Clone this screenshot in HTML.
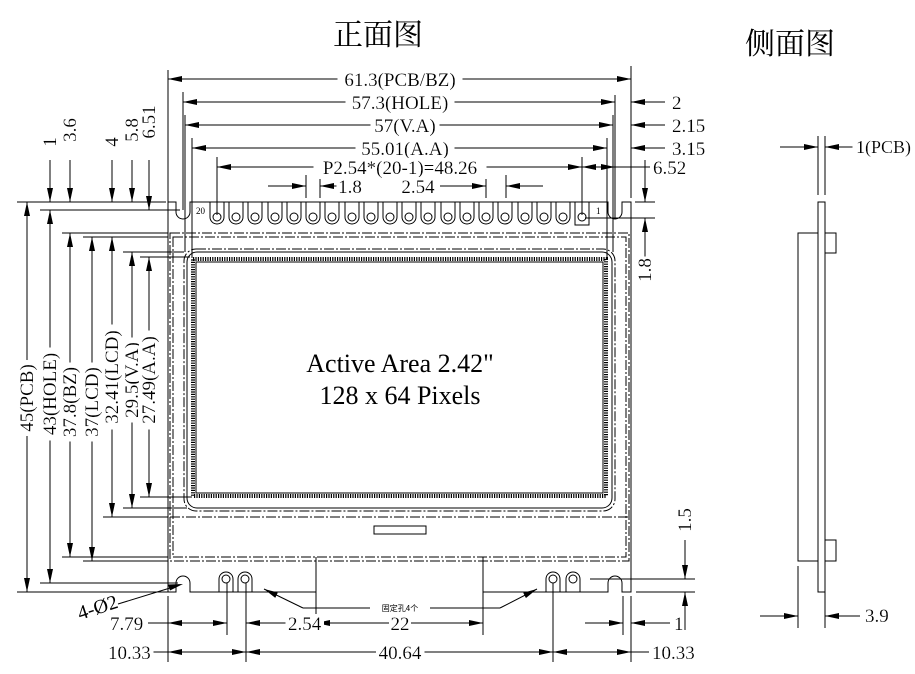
<!DOCTYPE html>
<html><head><meta charset="utf-8"><style>
html,body{margin:0;padding:0;background:#fff;}
svg{display:block;}
text{font-family:"Liberation Serif","Noto Serif CJK SC",serif;fill:#000;}
.t{font-size:19px;filter:url(#bg);}
.l{stroke:#000;stroke-width:1;fill:none;}
.dd{stroke:#000;stroke-width:1;fill:none;stroke-dasharray:10,2,2,2;}
</style></head><body>
<svg width="915" height="674" viewBox="0 0 915 674" xmlns="http://www.w3.org/2000/svg">
<defs>
<marker id="a" markerWidth="14" markerHeight="6" refX="14" refY="3" orient="auto-start-reverse" markerUnits="userSpaceOnUse"><path d="M0,0L14,3L0,6z" fill="#000"/></marker>
<filter id="bg" x="-0.06" y="0" width="1.12" height="1"><feFlood flood-color="#fff"/><feMerge><feMergeNode/><feMergeNode in="SourceGraphic"/></feMerge></filter>
</defs>
<text x="378" y="45" font-size="30" text-anchor="middle" style="font-family:'Noto Serif CJK SC','Noto Sans CJK SC',serif">正面图</text>
<text x="790" y="54" font-size="30" text-anchor="middle" style="font-family:'Noto Serif CJK SC','Noto Sans CJK SC',serif">侧面图</text>

<g class="l">
<path d="M168,70V202 M183,92V210 M185,115V252 M192,138V258 M217,157V215 M631,66V198 M615,95V218 M613,115V252 M607,138V258 M582,157V215 M306,175V198 M320,175V198 M486,175V198 M506,175V198"/>
</g>
<g class="l">
<line x1="168" y1="79" x2="631" y2="79" marker-start="url(#a)" marker-end="url(#a)"/>
<line x1="183" y1="102" x2="615" y2="102" marker-start="url(#a)" marker-end="url(#a)"/>
<line x1="665" y1="102" x2="631" y2="102" marker-end="url(#a)"/>
<line x1="185" y1="125" x2="613" y2="125" marker-start="url(#a)" marker-end="url(#a)"/>
<line x1="665" y1="125" x2="631" y2="125" marker-end="url(#a)"/>
<line x1="192" y1="148" x2="607" y2="148" marker-start="url(#a)" marker-end="url(#a)"/>
<line x1="665" y1="148" x2="631" y2="148" marker-end="url(#a)"/>
<line x1="217" y1="167" x2="582" y2="167" marker-start="url(#a)" marker-end="url(#a)"/>
<line x1="615" y1="167" x2="582" y2="167" marker-end="url(#a)"/>
<line x1="582" y1="167" x2="615" y2="167" marker-end="url(#a)"/>
<line x1="615" y1="167" x2="650" y2="167"/>
<line x1="268" y1="186" x2="306" y2="186" marker-end="url(#a)"/>
<line x1="350" y1="186" x2="320" y2="186" marker-end="url(#a)"/>
<line x1="440" y1="186" x2="486" y2="186" marker-end="url(#a)"/>
<line x1="543" y1="186" x2="506" y2="186" marker-end="url(#a)"/>
</g>
<text class="t" x="400" y="86" text-anchor="middle">61.3(PCB/BZ)</text>
<text class="t" x="400" y="109" text-anchor="middle">57.3(HOLE)</text>
<text class="t" x="405" y="132" text-anchor="middle">57(V.A)</text>
<text class="t" x="405" y="155" text-anchor="middle">55.01(A.A)</text>
<text class="t" x="400" y="174" text-anchor="middle">P2.54*(20-1)=48.26</text>
<text class="t" x="350" y="193" text-anchor="middle">1.8</text>
<text class="t" x="418" y="193" text-anchor="middle">2.54</text>
<text class="t" x="672" y="109">2</text>
<text class="t" x="672" y="132">2.15</text>
<text class="t" x="672" y="155">3.15</text>
<text class="t" x="653" y="174">6.52</text>

<path class="l" d="M168,202H176V212A7,7 0 0 0 190,212V202H608V212A7,7 0 0 0 622,212V202H631V592H622V583A7,7 0 0 0 608,583V592H483V557 M316,557V592H190V583A7,7 0 0 0 176,583V592H168V202"/>
<g class="l">
<path d="M210,202V217A7,7 0 0 0 224,217V202"/><circle cx="217" cy="217" r="4"/>
<path d="M229,202V217A7,7 0 0 0 243,217V202"/><circle cx="236" cy="217" r="4"/>
<path d="M248,202V217A7,7 0 0 0 262,217V202"/><circle cx="255" cy="217" r="4"/>
<path d="M268,202V217A7,7 0 0 0 282,217V202"/><circle cx="275" cy="217" r="4"/>
<path d="M287,202V217A7,7 0 0 0 301,217V202"/><circle cx="294" cy="217" r="4"/>
<path d="M306,202V217A7,7 0 0 0 320,217V202"/><circle cx="313" cy="217" r="4"/>
<path d="M325,202V217A7,7 0 0 0 339,217V202"/><circle cx="332" cy="217" r="4"/>
<path d="M345,202V217A7,7 0 0 0 359,217V202"/><circle cx="352" cy="217" r="4"/>
<path d="M364,202V217A7,7 0 0 0 378,217V202"/><circle cx="371" cy="217" r="4"/>
<path d="M383,202V217A7,7 0 0 0 397,217V202"/><circle cx="390" cy="217" r="4"/>
<path d="M402,202V217A7,7 0 0 0 416,217V202"/><circle cx="409" cy="217" r="4"/>
<path d="M421,202V217A7,7 0 0 0 435,217V202"/><circle cx="428" cy="217" r="4"/>
<path d="M441,202V217A7,7 0 0 0 455,217V202"/><circle cx="448" cy="217" r="4"/>
<path d="M460,202V217A7,7 0 0 0 474,217V202"/><circle cx="467" cy="217" r="4"/>
<path d="M479,202V217A7,7 0 0 0 493,217V202"/><circle cx="486" cy="217" r="4"/>
<path d="M498,202V217A7,7 0 0 0 512,217V202"/><circle cx="505" cy="217" r="4"/>
<path d="M518,202V217A7,7 0 0 0 532,217V202"/><circle cx="525" cy="217" r="4"/>
<path d="M537,202V217A7,7 0 0 0 551,217V202"/><circle cx="544" cy="217" r="4"/>
<path d="M556,202V217A7,7 0 0 0 570,217V202"/><circle cx="563" cy="217" r="4"/>
<rect x="575" y="202" width="14" height="23"/><circle cx="582" cy="217" r="4"/>
</g>
<text x="196" y="214" font-size="9">20</text>
<text x="596" y="214" font-size="9">1</text>

<rect class="dd" x="170" y="233" width="459" height="328"/>
<rect class="dd" x="173" y="237" width="453" height="320"/>
<line class="dd" x1="170" y1="517" x2="629" y2="517"/>
<rect class="l" x="187" y="252" width="425" height="256" rx="10"/>
<rect class="dd" x="184" y="249" width="431" height="262" rx="12"/>
<rect x="193" y="259" width="413" height="237" fill="none" stroke="#000" stroke-width="4" stroke-dasharray="1.2,1.2"/>
<rect class="l" x="196" y="262" width="407" height="231"/>
<rect class="l" x="374" y="526" width="52" height="8"/>
<text x="400" y="372" font-size="26" text-anchor="middle">Active Area 2.42"</text>
<text x="400" y="404" font-size="26" text-anchor="middle">128 x 64 Pixels</text>

<g class="l">
<path d="M219,592V579A7,7 0 0 1 233,579V592"/><circle cx="226" cy="579" r="4"/>
<path d="M238,592V579A7,7 0 0 1 252,579V592"/><circle cx="245" cy="579" r="4"/>
<path d="M546,592V579A7,7 0 0 1 560,579V592"/><circle cx="553" cy="579" r="4"/>
<path d="M566,592V579A7,7 0 0 1 580,579V592"/><circle cx="573" cy="579" r="4"/>
</g>

<g class="l">
<path d="M17,202H166 M40,210H180 M62,233H168 M83,237H168 M123,252H184 M140,257H190 M140,497H192 M123,508H187 M103,517H168 M62,557H168 M83,561H168 M40,583H178 M17,592H168"/>
</g>
<g class="l">
<line x1="27" y1="592" x2="27" y2="202" marker-start="url(#a)" marker-end="url(#a)"/>
<line x1="50" y1="160" x2="50" y2="202" marker-end="url(#a)"/>
<line x1="50" y1="583" x2="50" y2="210" marker-start="url(#a)" marker-end="url(#a)"/>
<line x1="70" y1="160" x2="70" y2="202" marker-end="url(#a)"/>
<line x1="70" y1="557" x2="70" y2="233" marker-start="url(#a)" marker-end="url(#a)"/>
<line x1="92" y1="561" x2="92" y2="237" marker-start="url(#a)" marker-end="url(#a)"/>
<line x1="112" y1="160" x2="112" y2="202" marker-end="url(#a)"/>
<line x1="112" y1="517" x2="112" y2="237" marker-start="url(#a)" marker-end="url(#a)"/>
<line x1="132" y1="160" x2="132" y2="202" marker-end="url(#a)"/>
<line x1="132" y1="508" x2="132" y2="252" marker-start="url(#a)" marker-end="url(#a)"/>
<line x1="149" y1="160" x2="149" y2="210" marker-end="url(#a)"/>
<line x1="149" y1="497" x2="149" y2="257" marker-start="url(#a)" marker-end="url(#a)"/>
</g>
<text class="t" text-anchor="middle" transform="translate(56,142) rotate(-90)">1</text>
<text class="t" text-anchor="middle" transform="translate(76,130) rotate(-90)">3.6</text>
<text class="t" text-anchor="middle" transform="translate(118,142) rotate(-90)">4</text>
<text class="t" text-anchor="middle" transform="translate(138,130) rotate(-90)">5.8</text>
<text class="t" text-anchor="middle" transform="translate(155,122) rotate(-90)">6.51</text>
<text class="t" text-anchor="middle" transform="translate(33,398) rotate(-90)">45(PCB)</text>
<text class="t" text-anchor="middle" transform="translate(56,394) rotate(-90)">43(HOLE)</text>
<text class="t" text-anchor="middle" transform="translate(76,402) rotate(-90)">37.8(BZ)</text>
<text class="t" text-anchor="middle" transform="translate(98,402) rotate(-90)">37(LCD)</text>
<text class="t" text-anchor="middle" transform="translate(118,377) rotate(-90)">32.41(LCD)</text>
<text class="t" text-anchor="middle" transform="translate(138,380) rotate(-90)">29.5(V.A)</text>
<text class="t" text-anchor="middle" transform="translate(155,380) rotate(-90)">27.49(A.A)</text>

<g class="l">
<path d="M635,202H655 M585,218H655 M590,579H695 M636,592H695"/>
<line x1="645" y1="160" x2="645" y2="202" marker-end="url(#a)"/>
<line x1="645" y1="262" x2="645" y2="218" marker-end="url(#a)"/>
<line x1="685" y1="540" x2="685" y2="579" marker-end="url(#a)"/>
<line x1="685" y1="630" x2="685" y2="592" marker-end="url(#a)"/>
</g>
<text class="t" transform="translate(651,270) rotate(-90)" text-anchor="middle">1.8</text>
<text class="t" transform="translate(691,520) rotate(-90)" text-anchor="middle">1.5</text>

<g class="l">
<path d="M168,596V662 M227,583V635 M246,583V662 M316,592V635 M483,592V635 M553,583V662 M623,596V635 M631,596V662"/>
<line x1="227" y1="623" x2="168" y2="623" marker-end="url(#a)"/>
<line x1="168" y1="623" x2="227" y2="623" marker-end="url(#a)"/>
<line x1="290" y1="623" x2="246" y2="623" marker-end="url(#a)"/>
<line x1="148" y1="623" x2="168" y2="623"/>
<line x1="316" y1="623" x2="483" y2="623" marker-start="url(#a)" marker-end="url(#a)"/>
<line x1="585" y1="623" x2="623" y2="623" marker-end="url(#a)"/>
<line x1="670" y1="623" x2="631" y2="623" marker-end="url(#a)"/>
<line x1="168" y1="652" x2="246" y2="652" marker-start="url(#a)" marker-end="url(#a)"/>
<line x1="148" y1="652" x2="168" y2="652"/>
<line x1="246" y1="652" x2="553" y2="652" marker-start="url(#a)" marker-end="url(#a)"/>
<line x1="553" y1="652" x2="631" y2="652" marker-start="url(#a)" marker-end="url(#a)"/>
<line x1="631" y1="652" x2="650" y2="652"/>
<path d="M118,604L170,588"/>
<path d="M370,608H303"/>
<line x1="303" y1="608" x2="264" y2="589" marker-end="url(#a)"/>
<path d="M430,608H500"/>
<line x1="500" y1="608" x2="537" y2="589" marker-end="url(#a)"/>
</g>
<polygon points="183,584 168,584.5 170,590.5" fill="#000"/>
<text class="t" x="110" y="630">7.79</text>
<text class="t" x="288" y="630">2.54</text>
<text class="t" x="400" y="630" text-anchor="middle">22</text>
<text class="t" x="674" y="630">1</text>
<text class="t" x="108" y="659">10.33</text>
<text class="t" x="400" y="659" text-anchor="middle">40.64</text>
<text class="t" x="652" y="659">10.33</text>
<text font-size="20" transform="translate(80,620) rotate(-18)">4-Ø2</text>
<text x="400" y="611" font-size="8" text-anchor="middle" style="font-family:'Noto Sans CJK SC',sans-serif">固定孔4个</text>

<g class="l">
<rect x="818" y="202" width="7" height="390"/>
<rect x="798" y="233" width="20" height="328"/>
<rect x="825" y="233" width="11" height="20"/>
<rect x="825" y="540" width="11" height="21"/>
<path d="M818,136V195 M825,136V195 M798,566V628 M825,566V628"/>
<line x1="780" y1="147" x2="818" y2="147" marker-end="url(#a)"/>
<line x1="855" y1="147" x2="825" y2="147" marker-end="url(#a)"/>
<line x1="760" y1="616" x2="798" y2="616" marker-end="url(#a)"/>
<line x1="860" y1="616" x2="825" y2="616" marker-end="url(#a)"/>
</g>
<text class="t" x="856" y="153" style="font-size:18px">1(PCB)</text>
<text class="t" x="865" y="622">3.9</text>
</svg>
</body></html>
